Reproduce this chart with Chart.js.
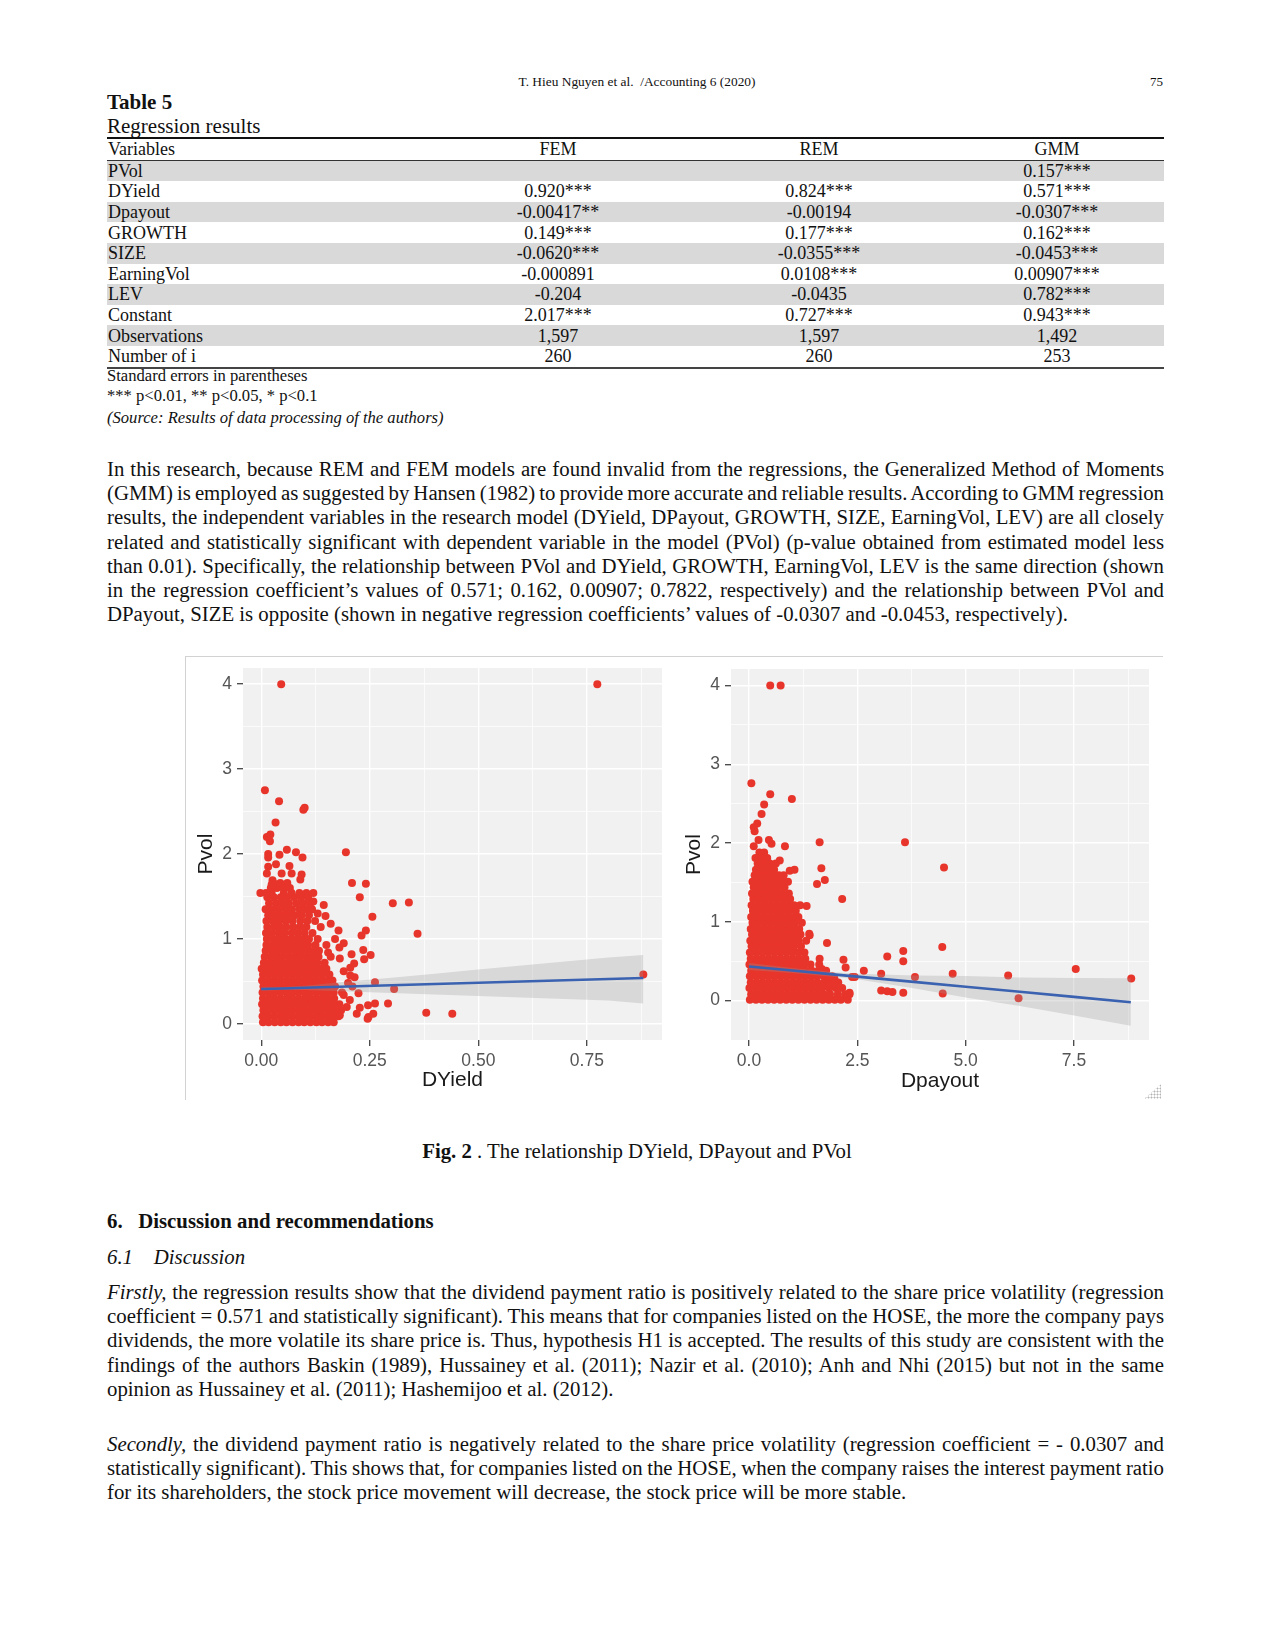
<!DOCTYPE html>
<html lang="en">
  <head>
    <meta charset="UTF-8" />
    <title>Fig. 2 - DYield, DPayout and PVol</title>
    <script src="https://cdn.jsdelivr.net/npm/chart.js"></script>
    <style>
      html, body { margin: 0; padding: 0; background: #fff; }
      body {
        position: relative;
        width: 1274px;
        height: 1649px;
        font-family: "Liberation Serif", "Times New Roman", serif;
        color: #111;
        overflow: hidden;
      }
      .abs { position: absolute; white-space: nowrap; }
      .runhead { left: 0; width: 1274px; top: 74px; font-size: 13.4px; line-height: 16px; text-align: center; }
      .pagenum { right: 111px; top: 74px; font-size: 13px; line-height: 16px; }
      .tabtitle { left: 107px; font-size: 21px; line-height: 22px; }
      table.reg {
        position: absolute; left: 107px; top: 137px; width: 1057px;
        border-collapse: collapse; font-size: 18px;
      }
      table.reg td { padding: 0; height: 20.6px; line-height: 20px; text-align: center; }
      table.reg td:first-child { text-align: left; padding-left: 1px; }
      table.reg td:last-child { padding-right: 12px; }
      table.reg tr.hd td { border-top: 2px solid #111; border-bottom: 1px solid #333; }
      table.reg tr.g td { background: #d9d9d9; }
      table.reg tr.last td { border-bottom: 2px solid #444; }
      .note { left: 107px; font-size: 16.6px; line-height: 18px; }
      .para { position: absolute; left: 107px; width: 1057px; font-size: 20.8px; }
      .para div { height: 24.2px; line-height: 24.2px; white-space: nowrap; }
      /* tighter natural spacing so every line fits, justification then fills it */
      .para div.j { text-align: justify; text-align-last: justify; white-space: normal; word-spacing: -2.5px; }
      .fig {
        position: absolute; left: 185px; top: 656px; width: 977px; height: 443px;
        border-left: 1px solid #d2d2d2; border-top: 1px solid #d2d2d2;
      }
      canvas { position: absolute; }
      .grip {
        position: absolute; left: 1144px; top: 1084px; width: 17px; height: 15px;
        background-image: radial-gradient(circle, #b5b5b5 0.9px, transparent 1.1px);
        background-size: 3px 3px;
        clip-path: polygon(100% 0, 100% 100%, 0 100%);
      }
      .caption { left: 0; width: 1274px; top: 1139px; font-size: 20.8px; line-height: 24px; text-align: center; }
      .sec { left: 107px; font-size: 20.8px; line-height: 24px; }
    </style>
  </head>
  <body>
    <div class="abs runhead">T. Hieu Nguyen et al.&nbsp; /Accounting 6 (2020)</div>
    <div class="abs pagenum">75</div>
    <div class="abs tabtitle" style="top: 91px"><b>Table 5</b></div>
    <div class="abs tabtitle" style="top: 115px">Regression results</div>

    <table class="reg">
      <colgroup>
        <col style="width: 333px" />
        <col style="width: 236px" />
        <col style="width: 286px" />
        <col style="width: 202px" />
      </colgroup>
      <tr class="hd"><td>Variables</td><td>FEM</td><td>REM</td><td>GMM</td></tr>
      <tr class="g"><td>PVol</td><td></td><td></td><td>0.157***</td></tr>
      <tr><td>DYield</td><td>0.920***</td><td>0.824***</td><td>0.571***</td></tr>
      <tr class="g"><td>Dpayout</td><td>-0.00417**</td><td>-0.00194</td><td>-0.0307***</td></tr>
      <tr><td>GROWTH</td><td>0.149***</td><td>0.177***</td><td>0.162***</td></tr>
      <tr class="g"><td>SIZE</td><td>-0.0620***</td><td>-0.0355***</td><td>-0.0453***</td></tr>
      <tr><td>EarningVol</td><td>-0.000891</td><td>0.0108***</td><td>0.00907***</td></tr>
      <tr class="g"><td>LEV</td><td>-0.204</td><td>-0.0435</td><td>0.782***</td></tr>
      <tr><td>Constant</td><td>2.017***</td><td>0.727***</td><td>0.943***</td></tr>
      <tr class="g"><td>Observations</td><td>1,597</td><td>1,597</td><td>1,492</td></tr>
      <tr class="last"><td>Number of i</td><td>260</td><td>260</td><td>253</td></tr>
    </table>

    <div class="abs note" style="top: 367px">Standard errors in parentheses</div>
    <div class="abs note" style="top: 387px">*** p&lt;0.01, ** p&lt;0.05, * p&lt;0.1</div>
    <div class="abs note" style="top: 409px"><i>(Source: Results of data processing of the authors)</i></div>

    <div class="para" style="top: 457px">
      <div class="j">In this research, because REM and FEM models are found invalid from the regressions, the Generalized Method of Moments</div>
      <div class="j">(GMM) is employed as suggested by Hansen (1982) to provide more accurate and reliable results. According to GMM regression</div>
      <div class="j">results, the independent variables in the research model (DYield, DPayout, GROWTH, SIZE, EarningVol, LEV) are all closely</div>
      <div class="j">related and statistically significant with dependent variable in the model (PVol) (p-value obtained from estimated model less</div>
      <div class="j">than 0.01). Specifically, the relationship between PVol and DYield, GROWTH, EarningVol, LEV is the same direction (shown</div>
      <div class="j">in the regression coefficient’s values of 0.571; 0.162, 0.00907; 0.7822, respectively) and the relationship between PVol and</div>
      <div>DPayout, SIZE is opposite (shown in negative regression coefficients’ values of -0.0307 and -0.0453, respectively).</div>
    </div>

    <div class="fig"></div>
    <canvas id="yieldChart" width="486" height="440" style="left: 186px; top: 658px"></canvas>
    <canvas id="payoutChart" width="486" height="440" style="left: 674px; top: 659px"></canvas>
    <div class="grip"></div>

    <div class="abs caption"><b>Fig. 2</b> . The relationship DYield, DPayout and PVol</div>

    <div class="abs sec" style="top: 1209px"><b>6.&nbsp;&nbsp; Discussion and recommendations</b></div>
    <div class="abs sec" style="top: 1245px"><i>6.1&nbsp;&nbsp;&nbsp; Discussion</i></div>

    <div class="para" style="top: 1280px">
      <div class="j"><i>Firstly,</i> the regression results show that the dividend payment ratio is positively related to the share price volatility (regression</div>
      <div class="j">coefficient = 0.571 and statistically significant). This means that for companies listed on the HOSE, the more the company pays</div>
      <div class="j">dividends, the more volatile its share price is. Thus, hypothesis H1 is accepted. The results of this study are consistent with the</div>
      <div class="j">findings of the authors Baskin (1989), Hussainey et al. (2011); Nazir et al. (2010); Anh and Nhi (2015) but not in the same</div>
      <div>opinion as Hussainey et al. (2011); Hashemijoo et al. (2012).</div>
    </div>

    <div class="para" style="top: 1432px">
      <div class="j"><i>Secondly,</i> the dividend payment ratio is negatively related to the share price volatility (regression coefficient = - 0.0307 and</div>
      <div class="j">statistically significant). This shows that, for companies listed on the HOSE, when the company raises the interest payment ratio</div>
      <div>for its shareholders, the stock price movement will decrease, the stock price will be more stable.</div>
    </div>

    <script>
      // ---- Left panel: PVol vs DYield ----
      // dense cloud, read row by row: [Pvol, [DYield values]]
      const yieldRows = [
        [0.02, [0.004, 0.017, 0.031, 0.045, 0.058, 0.072, 0.086, 0.099, 0.113, 0.127, 0.14, 0.154, 0.167]],
        [0.09, [0.003, 0.016, 0.03, 0.044, 0.057, 0.071, 0.085, 0.098, 0.112, 0.126, 0.139, 0.153, 0.166, 0.178]],
        [0.16, [0.005, 0.018, 0.032, 0.046, 0.059, 0.073, 0.087, 0.1, 0.114, 0.128, 0.141, 0.155, 0.169, 0.184]],
        [0.23, [0.002, 0.016, 0.029, 0.043, 0.057, 0.07, 0.084, 0.098, 0.111, 0.125, 0.139, 0.152, 0.166, 0.18]],
        [0.3, [0.004, 0.018, 0.031, 0.045, 0.059, 0.072, 0.086, 0.1, 0.113, 0.127, 0.141, 0.154, 0.168]],
        [0.37, [0.003, 0.017, 0.03, 0.044, 0.058, 0.071, 0.085, 0.099, 0.112, 0.126, 0.14, 0.153, 0.167, 0.186]],
        [0.44, [0.005, 0.019, 0.032, 0.046, 0.06, 0.073, 0.087, 0.101, 0.114, 0.128, 0.142, 0.155, 0.17]],
        [0.51, [0.002, 0.016, 0.03, 0.043, 0.057, 0.071, 0.084, 0.098, 0.112, 0.125, 0.139, 0.153, 0.164]],
        [0.58, [0.004, 0.018, 0.031, 0.045, 0.059, 0.072, 0.086, 0.1, 0.113, 0.127, 0.141, 0.157]],
        [0.65, [0.001, 0.015, 0.029, 0.042, 0.056, 0.07, 0.083, 0.097, 0.111, 0.124, 0.138, 0.15]],
        [0.72, [0.006, 0.02, 0.033, 0.047, 0.061, 0.074, 0.088, 0.102, 0.115, 0.129, 0.146]],
        [0.79, [0.008, 0.022, 0.036, 0.049, 0.063, 0.077, 0.09, 0.104, 0.118, 0.132, 0.16]],
        [0.86, [0.01, 0.024, 0.037, 0.051, 0.065, 0.079, 0.092, 0.106, 0.12, 0.133]],
        [0.93, [0.012, 0.026, 0.039, 0.053, 0.067, 0.081, 0.094, 0.108, 0.125, 0.15]],
        [1.0, [0.013, 0.028, 0.042, 0.055, 0.069, 0.083, 0.097, 0.11, 0.13]],
        [1.07, [0.011, 0.025, 0.04, 0.054, 0.07, 0.085, 0.1, 0.118]],
        [1.14, [0.014, 0.029, 0.043, 0.058, 0.074, 0.089, 0.104, 0.137]],
        [1.21, [0.012, 0.027, 0.041, 0.056, 0.072, 0.09, 0.106, 0.124]],
        [1.28, [0.016, 0.031, 0.046, 0.061, 0.077, 0.093, 0.11]],
        [1.35, [0.01, 0.025, 0.04, 0.056, 0.071, 0.088, 0.103, 0.117]],
        [1.42, [0.018, 0.034, 0.049, 0.064, 0.081, 0.097, 0.113]],
        [1.49, [0.014, 0.029, 0.045, 0.06, 0.076, 0.092, 0.108]],
        [1.54, [-0.002, 0.011, 0.024, 0.052, 0.07, 0.088, 0.104, 0.12]],
        [1.6, [0.022, 0.036, 0.051, 0.066]],
        [1.66, [0.028, 0.044, 0.06]],
      ];
      // scattered points: [DYield, Pvol]
      const yieldOutliers = [
        [0.046, 4.0], [0.774, 4.0], [0.88, 0.58],
        [0.0085, 2.75], [0.041, 2.62], [0.097, 2.52], [0.1, 2.545], [0.033, 2.37],
        [0.021, 2.23], [0.013, 2.2], [0.02, 2.15], [0.195, 2.02],
        [0.016, 2.0], [0.016, 1.96], [0.042, 1.99], [0.059, 2.05], [0.08, 2.02], [0.095, 1.96],
        [0.034, 1.88], [0.065, 1.86], [0.016, 1.85], [0.013, 1.77], [0.047, 1.77], [0.07, 1.77],
        [0.093, 1.76], [0.09, 1.7], [0.026, 1.69], [0.024, 1.64],
        [0.209, 1.66], [0.241, 1.65], [0.227, 1.49], [0.303, 1.42], [0.34, 1.43], [0.256, 1.26], [0.36, 1.06],
        [0.241, 1.1], [0.231, 1.04], [0.144, 1.4], [0.178, 1.1], [0.19, 0.95], [0.208, 0.82], [0.235, 0.87],
        [0.252, 0.81], [0.237, 0.76], [0.214, 0.71], [0.181, 0.77], [0.154, 0.84],
        [0.262, 0.49], [0.306, 0.41], [0.38, 0.13], [0.44, 0.12], [0.292, 0.24], [0.245, 0.06], [0.258, 0.12],
        [0.224, 0.36], [0.246, 0.22], [0.227, 0.19], [0.262, 0.24], [0.247, 0.08], [0.22, 0.12],
        [0.204, 0.28], [0.197, 0.2], [0.19, 0.34], [0.181, 0.1],
        [0.19, 0.62], [0.205, 0.66], [0.215, 0.55], [0.2, 0.48], [0.21, 0.44], [0.17, 1.0],
        [0.16, 1.18], [0.148, 1.27], [0.13, 1.3], [0.12, 1.44], [0.18, 0.9], [0.205, 0.57],
      ];
      // lm fit and its confidence band
      const yieldFitX = [0.0, 0.05, 0.1, 0.2, 0.3, 0.4, 0.5, 0.6, 0.7, 0.8, 0.88];
      const yieldFit = [0.41, 0.417, 0.425, 0.44, 0.454, 0.469, 0.484, 0.499, 0.514, 0.528, 0.54];
      const yieldLo = [0.39, 0.4, 0.4, 0.382, 0.364, 0.347, 0.329, 0.311, 0.294, 0.275, 0.24];
      const yieldHi = [0.43, 0.435, 0.45, 0.498, 0.544, 0.591, 0.639, 0.687, 0.734, 0.781, 0.81];
      const yieldXTicks = [0, 0.25, 0.5, 0.75];
      const yieldXLabels = ["0.00", "0.25", "0.50", "0.75"];
      const yieldXMinor = [0.125, 0.375, 0.625, 0.875];

      // ---- Right panel: PVol vs Dpayout ----
      const payoutRows = [
        [0.01, [0.02, 0.16, 0.3, 0.44, 0.58, 0.72, 0.86, 1.0, 1.14, 1.28, 1.42, 1.56, 1.7, 1.84, 1.98, 2.12, 2.28]],
        [0.08, [0.05, 0.19, 0.33, 0.47, 0.61, 0.75, 0.89, 1.03, 1.17, 1.31, 1.45, 1.59, 1.73, 1.87, 2.05, 2.22, 2.32]],
        [0.16, [0.01, 0.15, 0.29, 0.43, 0.57, 0.71, 0.85, 0.99, 1.13, 1.27, 1.41, 1.55, 1.69, 1.85, 2.0, 2.15]],
        [0.23, [0.04, 0.18, 0.32, 0.46, 0.6, 0.74, 0.88, 1.02, 1.16, 1.3, 1.44, 1.58, 1.74, 1.9, 2.06]],
        [0.31, [0.02, 0.16, 0.3, 0.44, 0.58, 0.72, 0.86, 1.0, 1.14, 1.28, 1.42, 1.56, 1.72, 1.92]],
        [0.38, [0.05, 0.19, 0.33, 0.47, 0.61, 0.75, 0.89, 1.03, 1.17, 1.31, 1.45, 1.6, 1.78]],
        [0.46, [0.01, 0.15, 0.29, 0.43, 0.57, 0.71, 0.85, 0.99, 1.13, 1.27, 1.42, 1.62]],
        [0.53, [0.04, 0.18, 0.32, 0.46, 0.6, 0.74, 0.88, 1.02, 1.16, 1.3]],
        [0.61, [0.02, 0.16, 0.3, 0.44, 0.58, 0.72, 0.86, 1.0, 1.14, 1.28]],
        [0.69, [0.06, 0.2, 0.34, 0.48, 0.62, 0.76, 0.9, 1.04, 1.2]],
        [0.76, [0.03, 0.17, 0.31, 0.45, 0.59, 0.73, 0.87, 1.01, 1.15, 1.32]],
        [0.84, [0.07, 0.21, 0.35, 0.49, 0.63, 0.77, 0.91, 1.05, 1.19]],
        [0.91, [0.04, 0.18, 0.32, 0.46, 0.6, 0.74, 0.88, 1.02, 1.16]],
        [0.99, [0.08, 0.22, 0.36, 0.5, 0.64, 0.78, 0.92, 1.06, 1.22]],
        [1.06, [0.05, 0.19, 0.33, 0.47, 0.61, 0.75, 0.89, 1.03, 1.14]],
        [1.14, [0.09, 0.23, 0.37, 0.51, 0.65, 0.79, 0.93, 1.08]],
        [1.21, [0.06, 0.2, 0.34, 0.48, 0.62, 0.76, 0.9, 1.04, 1.18]],
        [1.29, [0.1, 0.24, 0.38, 0.52, 0.66, 0.8, 0.95]],
        [1.36, [0.07, 0.21, 0.35, 0.49, 0.63, 0.77, 0.92]],
        [1.44, [0.11, 0.25, 0.39, 0.53, 0.67, 0.82]],
        [1.51, [0.08, 0.22, 0.36, 0.5, 0.64, 0.78, 0.9]],
        [1.59, [0.13, 0.27, 0.41, 0.55, 0.69, 0.8]],
        [1.66, [0.16, 0.3, 0.44, 0.58]],
        [1.74, [0.2, 0.34, 0.48, 0.62]],
        [1.81, [0.15, 0.29, 0.42]],
        [1.88, [0.24, 0.35]],
      ];
      const payoutOutliers = [
        [0.49, 4.0], [0.73, 4.0],
        [0.055, 2.76], [0.49, 2.62], [0.99, 2.56], [0.35, 2.49], [0.29, 2.37], [0.19, 2.25], [0.11, 2.2],
        [0.13, 2.15], [0.22, 2.04], [0.46, 2.04], [0.52, 1.99], [1.63, 2.01], [3.6, 2.01], [0.83, 1.96], [0.11, 1.96],
        [0.71, 1.78], [1.67, 1.68], [1.75, 1.53], [1.57, 1.48], [0.94, 1.65], [1.05, 1.66], [2.15, 1.29],
        [1.33, 1.2], [1.4, 0.83], [1.8, 0.73],
        [4.5, 1.69], [4.46, 0.68], [3.56, 0.63], [3.56, 0.5], [3.19, 0.56], [2.65, 0.38], [3.05, 0.34],
        [3.83, 0.3], [4.7, 0.34], [5.98, 0.32], [7.54, 0.4], [8.82, 0.28], [6.22, 0.03], [4.47, 0.09],
        [3.56, 0.1], [3.05, 0.13], [3.19, 0.12], [3.31, 0.11], [2.32, 0.1], [2.44, 0.3],
        [2.18, 0.52], [2.23, 0.42], [2.38, 0.3], [1.39, 0.85], [1.63, 0.53], [1.68, 0.4], [1.83, 0.3], [1.97, 0.28],
      ];
      const payoutFitX = [0, 1, 2, 2.5, 3.8, 5, 6.25, 7.5, 8.81];
      const payoutFit = [0.433, 0.382, 0.33, 0.305, 0.238, 0.176, 0.112, 0.048, -0.02];
      const payoutLo = [0.39, 0.35, 0.3, 0.27, 0.158, 0.041, -0.068, -0.19, -0.32];
      const payoutHi = [0.476, 0.414, 0.36, 0.34, 0.318, 0.311, 0.292, 0.288, 0.285];
      const payoutXTicks = [0, 2.5, 5, 7.5];
      const payoutXLabels = ["0.0", "2.5", "5.0", "7.5"];
      const payoutXMinor = [1.25, 3.75, 6.25, 8.75];

      // shared y axis (Pvol)
      const pvolTicks = [0, 1, 2, 3, 4];
      const pvolLabels = ["0", "1", "2", "3", "4"];
      const pvolMinor = [0.5, 1.5, 2.5, 3.5];

      const RED = "#e8352b";
      const BLUE = "#3a62b0";
      const BAND = "rgba(150, 150, 150, 0.28)";
      const SANS = "'Liberation Sans', Arial, sans-serif";

      function toPoints(rows, extra) {
        const pts = [];
        rows.forEach(([y, xs]) => xs.forEach((x) => pts.push({ x: x, y: y })));
        extra.forEach(([x, y]) => pts.push({ x: x, y: y }));
        return pts;
      }
      function zip(xs, ys) {
        return xs.map((x, i) => ({ x: x, y: ys[i] }));
      }

      // grey ggplot panel behind the grid
      const panelBg = {
        id: "panelBg",
        beforeDraw(chart) {
          const { ctx, chartArea: a } = chart;
          ctx.save();
          ctx.fillStyle = "#f1f1f1";
          ctx.fillRect(a.left, a.top, a.right - a.left, a.bottom - a.top);
          ctx.restore();
        },
      };

      function axis(cfg) {
        const all = cfg.major.concat(cfg.minor);
        const isMajor = (c) => c.tick && cfg.major.indexOf(c.tick.value) >= 0;
        return {
          type: "linear",
          position: cfg.pos,
          min: cfg.min,
          max: cfg.max,
          afterBuildTicks: (s) => {
            s.ticks = all.map((v) => ({ value: v }));
          },
          afterFit: (s) => {
            if (cfg.pos === "left") s.width = cfg.size;
            else s.height = cfg.size;
            // keep the plot panel exactly where the layout puts it
            s.paddingTop = 0;
            s.paddingBottom = 0;
            s.paddingLeft = 0;
            s.paddingRight = 0;
          },
          grid: {
            color: "#ffffff",
            lineWidth: (c) => (isMajor(c) ? 1.4 : 0.7),
            tickColor: (c) => (isMajor(c) ? "#444" : "rgba(0,0,0,0)"),
            tickLength: 6,
            tickWidth: 1.3,
          },
          border: { display: false },
          ticks: {
            autoSkip: false,
            maxRotation: 0,
            padding: cfg.pos === "left" ? 5 : 5,
            color: "#555",
            font: { family: SANS, size: 17.5 },
            callback: (v) => {
              const i = cfg.major.indexOf(v);
              return i >= 0 ? cfg.labels[i] : "";
            },
          },
          title: {
            display: true,
            text: cfg.title,
            color: "#1a1a1a",
            font: { family: SANS, size: 21 },
            padding: cfg.pos === "left" ? { top: cfg.tpad, bottom: 0 } : { top: 0, bottom: cfg.tpad },
          },
        };
      }

      function makePlot(id, d) {
        new Chart(document.getElementById(id), {
          type: "scatter",
          data: {
            datasets: [
              { type: "line", data: zip(d.fitX, d.lo), borderWidth: 0, pointRadius: 0, fill: false, order: 3 },
              { type: "line", data: zip(d.fitX, d.hi), borderWidth: 0, pointRadius: 0, fill: "-1", backgroundColor: BAND, order: 2 },
              { type: "line", data: zip(d.fitX, d.fit), borderColor: BLUE, borderWidth: 2.6, pointRadius: 0, fill: false, order: 1 },
              { data: toPoints(d.rows, d.outliers), backgroundColor: RED, borderWidth: 0, pointRadius: 4, order: 4 },
            ],
          },
          options: {
            responsive: false,
            animation: false,
            layout: { padding: { top: 10, right: d.padRight, left: 0, bottom: 0 } },
            plugins: { legend: { display: false }, tooltip: { enabled: false } },
            scales: {
              x: axis({ pos: "bottom", min: d.xMin, max: d.xMax, major: d.xTicks, labels: d.xLabels, minor: d.xMinor, size: d.xAxisH, title: d.xTitle, tpad: 5 }),
              y: axis({ pos: "left", min: d.yMin, max: d.yMax, major: pvolTicks, labels: pvolLabels, minor: pvolMinor, size: d.yAxisW, title: "Pvol", tpad: 8 }),
            },
          },
          plugins: [panelBg],
        });
      }

      makePlot("yieldChart", {
        rows: yieldRows, outliers: yieldOutliers,
        fitX: yieldFitX, fit: yieldFit, lo: yieldLo, hi: yieldHi,
        xMin: -0.042, xMax: 0.923, yMin: -0.19, yMax: 4.19,
        xTicks: yieldXTicks, xLabels: yieldXLabels, xMinor: yieldXMinor,
        xTitle: "DYield", xAxisH: 58, yAxisW: 57, padRight: 10,
      });

      makePlot("payoutChart", {
        rows: payoutRows, outliers: payoutOutliers,
        fitX: payoutFitX, fit: payoutFit, lo: payoutLo, hi: payoutHi,
        xMin: -0.415, xMax: 9.23, yMin: -0.5, yMax: 4.21,
        xTicks: payoutXTicks, xLabels: payoutXLabels, xMinor: payoutXMinor,
        xTitle: "Dpayout", xAxisH: 59, yAxisW: 57, padRight: 11,
      });
    </script>
  </body>
</html>
